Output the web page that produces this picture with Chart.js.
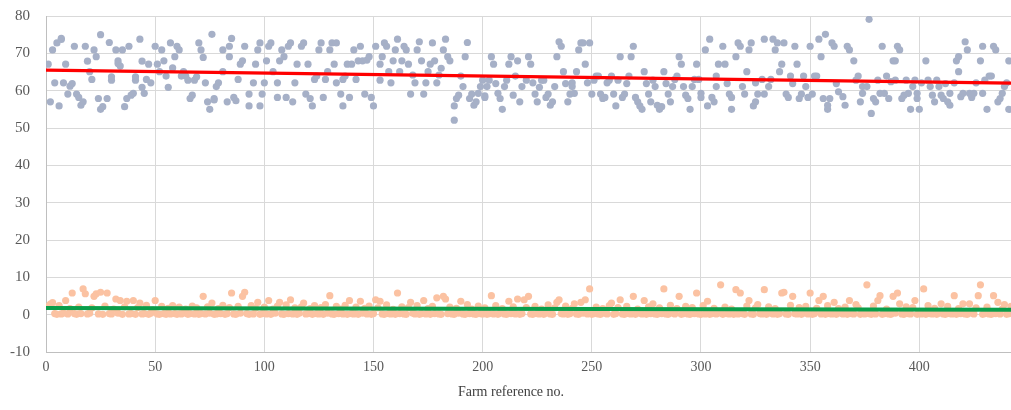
<!DOCTYPE html>
<html>
<head>
<meta charset="utf-8">
<script src="https://cdn.jsdelivr.net/npm/chart.js@4.4.1/dist/chart.umd.min.js"></script>
<style>
html,body{margin:0;padding:0;background:#ffffff;}
canvas{display:block;}
</style>
</head>
<body>
<canvas id="c" width="1011" height="410"></canvas>
<script>
// ---- Data ----
const xTicks = [0, 50, 100, 150, 200, 250, 300, 350, 400];
const yTicks = [-10, 0, 10, 20, 30, 40, 50, 60, 70, 80];
const xTitle = 'Farm reference no.';

// upper (grey-blue) series: farm numbers and values
const greyFarm = [
1,2,3,4,5,6,7,7,8,9,
10,11,12,13,14,15,16,17,18,19,
20,21,22,23,24,25,25,26,28,29,
30,30,32,33,33,34,35,36,37,38,
39,40,41,41,43,44,44,45,46,47,
48,50,51,52,53,54,55,56,57,58,
59,60,61,62,63,64,65,66,67,68,
69,70,71,72,
73,74,75,76,77,77,78,79,81,81,
83,84,84,85,86,87,88,89,90,91,
93,93,95,96,97,98,98,99,100,101,
102,103,104,106,106,107,108,109,110,111,
112,113,114,115,117,118,119,120,121,122,
123,124,125,126,127,128,129,130,131,132,
133,133,135,136,136,137,138,139,140,141,
142,143,144,145,
146,147,148,149,150,151,153,153,154,155,
156,157,158,159,160,161,162,163,164,165,
166,167,168,169,170,171,172,173,174,175,
176,177,178,179,180,181,182,183,184,185,
187,187,188,189,190,191,192,193,194,195,
196,197,198,199,200,201,201,202,203,204,
205,206,207,208,209,210,211,212,213,214,
215,216,217,218,
220,221,222,223,224,225,226,227,228,229,
230,231,232,233,234,235,236,237,238,239,
240,241,241,242,243,244,245,246,247,248,
249,250,251,252,253,254,255,256,257,258,
259,260,261,262,263,264,265,266,267,268,
269,270,271,272,273,274,275,276,277,278,
279,280,281,282,283,284,285,286,287,288,
289,290,291,292,
293,294,295,296,297,298,299,300,300,
302,303,304,305,306,307,307,308,310,311,
312,313,314,314,316,317,318,319,320,321,
322,323,324,325,325,326,328,329,329,331,
332,333,334,335,336,337,338,339,340,341,
342,343,344,345,346,347,348,349,350,351,
352,353,354,355,356,357,358,358,359,360,
361,362,363,365,
366,367,368,370,371,372,373,374,374,
376,377,378,379,380,381,382,383,384,385,
386,387,388,389,389,390,391,392,393,394,
395,396,397,398,399,399,400,401,403,404,
405,406,407,408,409,410,411,412,413,414,
414,416,417,418,418,419,420,421,422,423,
424,425,426,428,429,429,430,431,432,433,
434,435,436,437,438,439,440,441,441
];
const greyValue = [
67.1,57.0,70.9,62.1,72.8,55.9,73.7,74.0,62.1,67.1,
59.1,61.2,61.9,71.9,59.1,58.2,56.1,57.0,71.9,67.9,
65.1,63.0,70.9,69.1,57.9,75.0,55.0,55.7,57.9,72.9,
62.8,63.7,70.9,68.0,67.3,66.6,70.9,55.7,57.9,71.9,
58.8,59.3,62.8,63.7,73.8,67.9,60.9,59.3,63.0,67.1,
62.1,71.9,67.1,65.1,70.9,68.0,63.9,60.9,72.8,66.1,
69.1,71.9,70.9,63.9,65.1,63.9,62.8,57.9,58.8,62.8,
63.7,72.8,70.9,68.9,
62.1,57.0,55.0,75.1,57.9,57.5,61.1,62.1,65.1,70.9,
57.0,69.1,71.9,74.0,58.2,57.3,63.0,67.1,68.0,71.9,
55.9,59.1,62.1,67.1,70.9,72.8,55.9,59.1,62.1,68.0,
71.9,72.8,65.1,58.2,62.1,68.0,70.9,69.1,58.2,71.9,
72.8,57.0,62.1,67.1,71.9,72.8,59.1,67.1,57.9,55.9,
63.0,63.9,70.9,72.8,58.2,63.0,65.1,70.9,72.8,67.1,
62.1,72.8,59.1,63.0,55.9,63.9,67.1,58.2,67.1,70.9,
63.0,68.0,71.9,68.0,
59.1,68.2,69.1,58.2,55.9,71.9,62.8,67.1,69.1,72.8,
71.9,65.1,62.1,68.0,70.9,73.8,65.1,68.0,71.9,70.9,
67.1,59.1,64.2,62.1,70.9,73.1,68.0,59.1,62.1,65.1,
67.1,72.8,68.0,62.1,64.2,66.0,70.9,73.8,69.1,68.0,
52.1,55.9,57.9,58.8,63.9,61.1,69.1,72.9,57.9,59.1,
56.1,57.0,59.3,61.1,62.8,58.6,58.2,61.1,62.8,69.1,
67.1,61.9,59.3,57.9,55.0,61.1,62.8,67.1,69.1,58.8,
63.9,68.0,57.0,61.1,
62.8,69.1,67.1,62.1,59.1,57.0,60.9,62.8,62.8,58.2,
59.1,56.1,57.0,61.1,69.1,73.1,71.9,65.1,61.9,57.0,
59.1,62.1,61.1,59.3,65.1,70.9,72.8,72.8,67.1,62.1,
72.8,59.1,62.8,63.9,63.9,59.1,57.9,58.2,62.1,62.8,
63.9,59.1,55.9,62.8,69.1,58.2,59.1,61.9,63.9,69.1,
71.9,58.2,57.0,55.9,55.0,65.1,61.9,59.1,57.0,62.8,
61.1,56.1,55.0,55.7,65.1,61.9,59.1,57.0,61.1,63.0,
63.9,69.1,67.1,61.1,
58.8,57.9,55.0,61.1,63.0,67.1,63.0,59.3,58.2,
70.9,55.9,73.8,58.2,57.0,61.1,63.9,67.1,71.9,67.1,
61.9,59.1,58.2,55.0,69.1,72.8,71.9,61.1,59.1,65.1,
70.9,72.8,55.9,57.0,62.1,59.1,63.0,73.8,59.1,61.1,
63.0,73.8,70.9,72.8,65.1,67.1,72.8,59.1,58.2,63.9,
61.9,71.9,67.1,57.9,59.1,63.9,61.1,58.2,71.9,59.1,
63.9,63.9,73.8,69.1,57.9,75.1,55.0,56.1,57.9,72.8,
71.9,61.9,59.7,58.4,
56.1,71.9,70.9,68.0,62.8,63.9,57.0,59.3,61.1,
61.1,79.1,53.9,57.9,57.0,62.8,59.3,71.9,59.3,63.9,
57.9,62.4,68.0,62.8,68.0,71.9,70.9,57.9,58.8,62.8,
59.3,55.0,61.1,62.8,59.3,57.9,55.0,62.1,68.0,62.8,
61.1,58.8,57.0,62.8,61.1,58.8,57.9,61.9,57.0,56.1,
59.3,62.1,68.0,65.1,69.1,58.4,59.3,73.1,70.9,59.3,
58.2,59.3,62.1,68.0,71.9,59.3,62.8,55.0,63.9,63.9,
71.9,70.9,57.0,57.9,59.3,61.1,62.1,68.0,55.0
];

// lower (peach) series: one value per farm, farm no. 1..442
const peachValue = [
2.2,2.8,3.2,0.3,0.1,2.4,0.2,0.4,3.8,0.2,1.6,5.8,0.3,0.1,2.0,0.3,6.9,5.6,0.2,0.4,
1.8,4.9,5.6,0.2,6.0,0.1,2.3,5.8,0.3,0.2,1.5,4.2,0.4,3.8,0.1,2.1,3.6,0.2,0.3,3.8,
0.1,1.9,3.1,0.2,0.3,2.5,0.1,0.4,1.2,3.8,0.2,0.1,2.2,0.3,0.1,1.7,0.2,2.4,0.3,0.1,
2.0,0.2,0.4,1.5,0.1,0.3,2.3,0.2,1.8,0.1,0.3,4.9,0.2,2.1,0.4,3.1,0.1,0.2,1.6,0.3,
2.5,0.1,0.3,1.9,5.8,0.2,0.1,2.2,0.4,4.9,6.0,0.3,0.1,2.4,0.2,1.7,3.3,0.1,0.3,2.0,
0.2,3.8,0.1,1.5,0.4,2.3,3.3,0.2,0.1,2.6,0.3,4.0,0.2,1.8,0.1,0.4,2.1,3.1,0.2,0.3,
1.6,0.1,2.4,0.3,0.2,1.9,0.1,2.7,0.4,5.1,0.2,0.1,2.2,0.3,1.5,0.2,2.5,0.1,3.8,0.3,
0.2,2.0,0.1,3.6,0.4,1.7,0.2,2.3,0.1,0.3,4.0,1.8,3.6,0.2,0.1,2.6,0.3,0.2,1.4,0.1,
5.8,0.3,2.1,0.2,0.1,1.9,3.3,0.4,0.2,2.4,0.1,0.3,3.8,0.2,1.6,0.1,2.2,0.3,4.5,0.2,
0.1,4.9,4.2,0.3,2.0,0.2,0.1,1.7,0.4,3.6,0.2,0.1,2.7,0.3,1.5,0.2,0.1,2.3,0.3,0.2,
1.8,0.1,0.3,5.1,0.2,2.4,0.1,0.4,1.6,0.2,0.1,3.6,0.3,2.1,0.2,4.2,0.1,0.3,4.0,1.9,
4.9,0.2,0.1,2.2,0.3,0.2,1.5,0.1,0.4,2.6,0.2,0.1,1.8,3.3,4.0,0.3,0.2,2.3,0.1,0.3,
1.7,2.9,0.2,0.1,3.3,0.4,4.0,0.2,6.9,0.1,0.3,2.0,0.2,0.1,1.6,0.4,0.2,2.4,3.1,0.1,
0.3,1.9,4.0,0.2,0.1,2.2,0.3,0.2,4.9,0.1,1.5,0.4,0.2,3.8,0.1,2.1,0.3,2.9,0.2,0.1,
1.8,0.3,6.9,0.2,0.1,2.5,0.4,0.2,1.6,4.9,0.1,0.3,2.2,0.2,0.1,1.9,0.3,5.8,0.2,0.1,
2.4,0.2,3.6,0.1,0.3,1.7,0.2,0.4,8.0,0.1,2.0,0.3,0.2,1.5,0.1,6.7,0.2,5.8,0.3,0.1,
2.3,3.8,0.2,0.1,1.8,2.7,0.3,0.2,6.7,0.1,2.1,0.4,0.2,1.6,0.1,0.3,5.8,6.0,0.2,0.1,
2.5,4.9,0.3,0.2,1.9,0.1,0.4,2.2,0.2,5.8,0.1,0.3,1.7,3.8,0.2,4.9,0.1,2.4,0.3,0.2,
3.3,0.1,1.6,0.4,0.2,2.0,0.1,3.8,0.3,0.2,2.7,1.8,0.1,0.4,0.2,8.0,0.3,0.1,2.3,0.2,
3.8,5.1,0.1,0.3,1.5,0.2,0.1,4.9,0.4,5.8,2.9,0.2,0.1,2.1,0.3,0.2,1.9,3.8,0.1,0.3,
0.2,6.9,0.1,2.4,0.3,0.2,1.7,0.1,0.4,2.9,0.2,0.1,2.2,0.3,0.2,5.1,0.1,1.6,0.3,2.9,
0.2,0.1,2.9,0.4,0.2,1.8,5.1,8.0,0.1,0.3,2.0,0.2,0.1,5.1,0.3,3.3,0.2,1.5,2.7,0.1,0.3,2.2
];

// linear trend lines (end points)
const trendFarm = [0, 442];
const redTrend = [65.5, 62.0];
const greenTrend = [1.8, 1.3];

// ---- Chart ----
const FONT = "'Liberation Serif', 'Times New Roman', serif";
const nGrey = Math.min(greyFarm.length, greyValue.length);
const greyPts = [];
for (let i = 0; i < nGrey; i++) greyPts.push({x: greyFarm[i], y: greyValue[i]});
const peachPts = peachValue.map((v, i) => ({x: i + 1, y: v}));

// x-axis title, drawn a little left of the plot centre as in the original figure
const axisTitlePlugin = {
  id: 'axisTitle',
  afterDraw(chart) {
    const ctx = chart.ctx;
    ctx.save();
    ctx.font = '14px ' + FONT;
    ctx.fillStyle = '#404040';
    ctx.textAlign = 'center';
    ctx.textBaseline = 'middle';
    ctx.fillText(xTitle, 511, 392);
    ctx.restore();
  }
};

new Chart(document.getElementById('c'), {
  type: 'scatter',
  data: {
    datasets: [
      {type: 'line', data: trendFarm.map((x, i) => ({x, y: redTrend[i]})),
       borderColor: '#ff0000', borderWidth: 3.2, pointRadius: 0, fill: false, order: 0},
      {type: 'line', data: trendFarm.map((x, i) => ({x, y: greenTrend[i]})),
       borderColor: '#0a9e4a', borderWidth: 4, pointRadius: 0, fill: false, order: 0},
      {data: greyPts, backgroundColor: '#a6b0c7', borderWidth: 0, pointRadius: 3.6, order: 2},
      {data: peachPts, backgroundColor: '#fbc2a2', borderWidth: 0, pointRadius: 3.6, order: 1}
    ]
  },
  plugins: [axisTitlePlugin],
  options: {
    responsive: false,
    animation: false,
    devicePixelRatio: 1,
    layout: {autoPadding: false, padding: {top: 16, right: 0, bottom: 0, left: 0}},
    plugins: {legend: {display: false}, tooltip: {enabled: false}},
    scales: {
      x: {
        type: 'linear', min: 0, max: 442,
        afterBuildTicks: s => { s.ticks = s.ticks.filter(t => xTicks.includes(t.value)); },
        afterFit: s => { s.height = 58; s.paddingRight = 0; s.paddingLeft = 0; },
        ticks: {stepSize: 50, color: '#595959', font: {family: FONT, size: 14}, padding: 7, maxRotation: 0},
        grid: {color: '#d9d9d9', drawTicks: false, lineWidth: 1},
        border: {display: true, color: '#bfbfbf'},
        title: {display: false}
      },
      y: {
        min: -10, max: 80,
        afterBuildTicks: s => { s.ticks = yTicks.map(v => ({value: v})); },
        afterFit: s => { s.width = 46; s.paddingTop = 0; s.paddingBottom = 0; },
        ticks: {stepSize: 10, color: '#595959', font: {family: FONT, size: 15}, padding: 16},
        grid: {color: '#d9d9d9', drawTicks: false, lineWidth: 1},
        border: {display: true, color: '#bfbfbf'}
      }
    }
  }
});
</script>
</body>
</html>
